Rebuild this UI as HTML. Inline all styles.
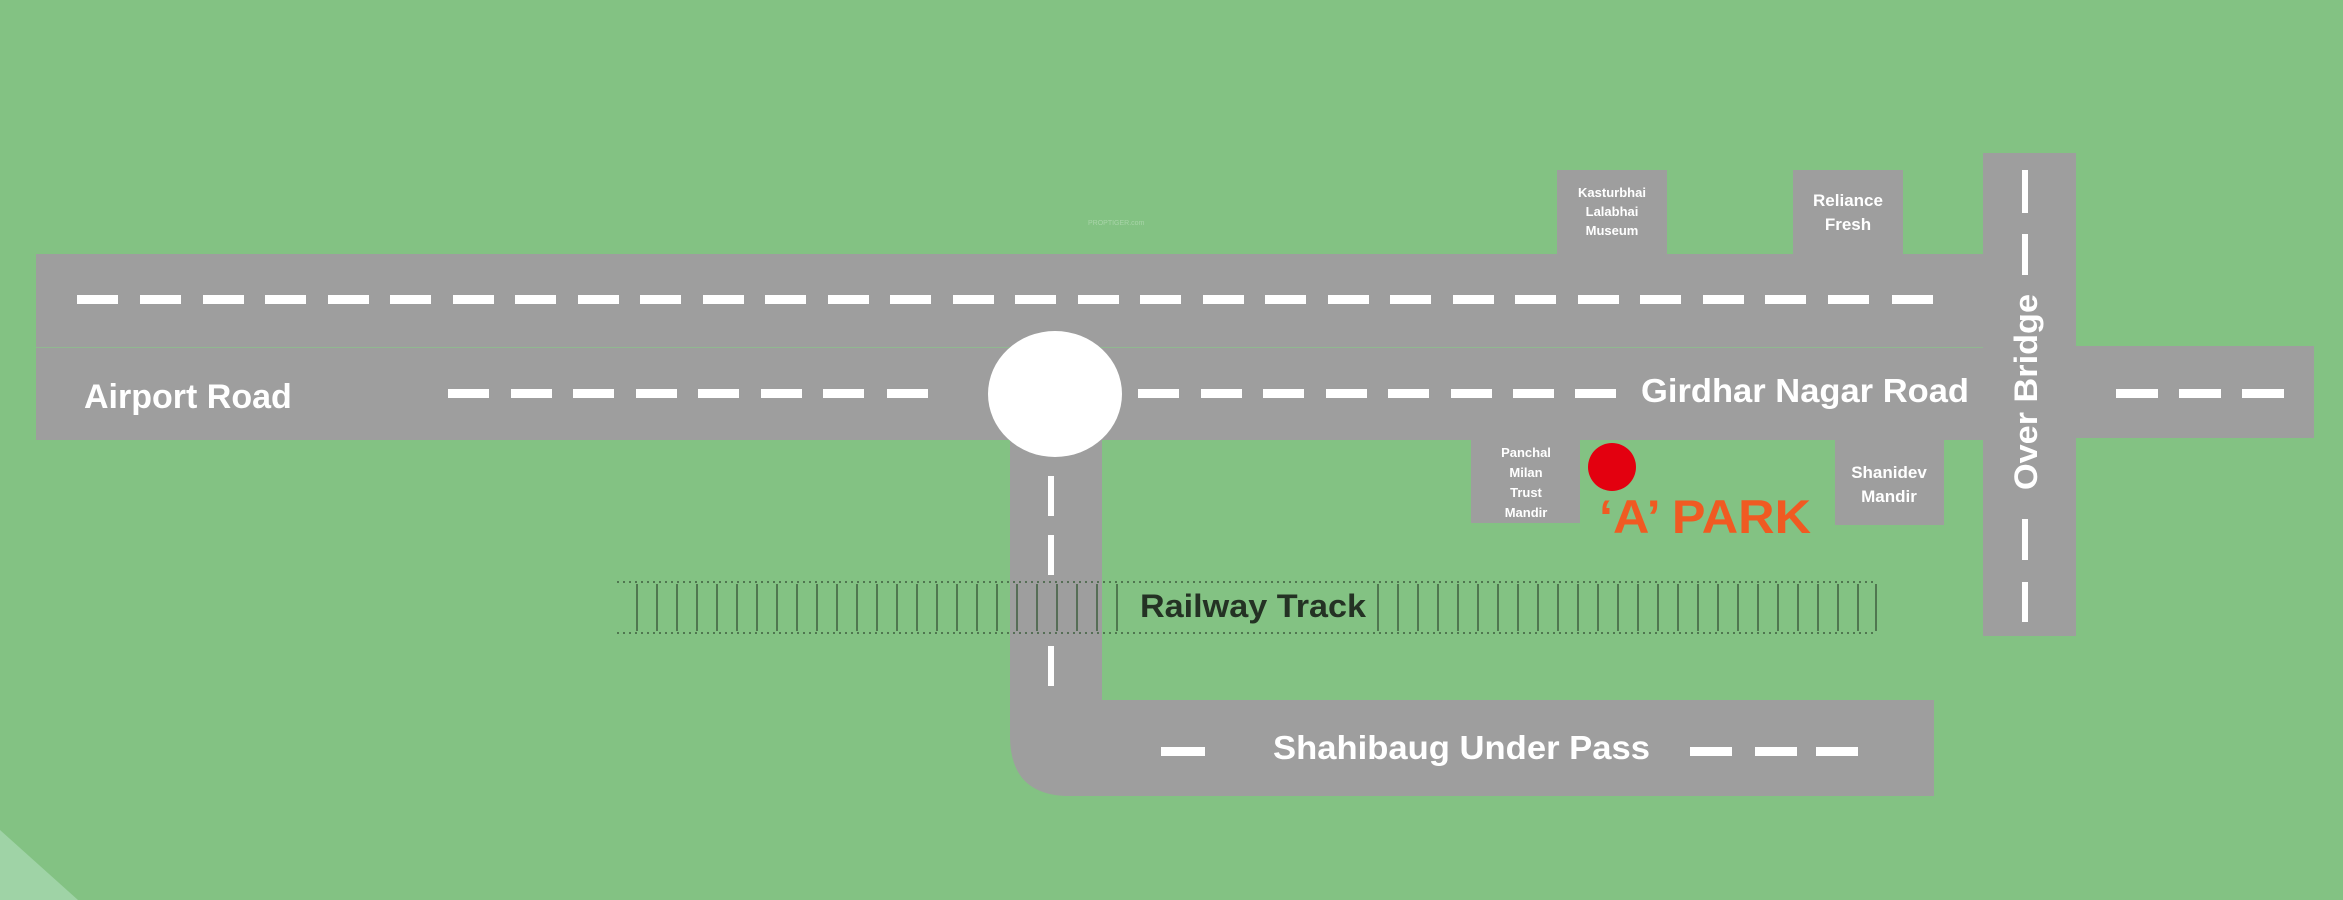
<!DOCTYPE html>
<html><head><meta charset="utf-8"><style>
html,body{margin:0;padding:0;background:#83c283;}
svg{display:block;}
text{font-family:"Liberation Sans",Arial,sans-serif;font-weight:bold;}
</style></head><body>
<svg width="2343" height="900" viewBox="0 0 2343 900" xmlns="http://www.w3.org/2000/svg">
<rect width="2343" height="900" fill="#83c283"/>
<polygon points="0,830 78,900 0,900" fill="#9fd3a6"/>
<text x="1088" y="225" font-size="7" fill="#a8d4a8" style="font-weight:normal">PROPTIGER.com</text>
<rect x="36" y="254" width="1947" height="186" fill="#9e9e9e"/>
<line x1="36" y1="347.5" x2="1983" y2="347.5" stroke="#90b890" stroke-width="1"/>
<rect x="1983" y="153" width="93" height="483" fill="#9e9e9e"/>
<rect x="2076" y="346" width="238" height="92" fill="#9e9e9e"/>
<rect x="1010" y="440" width="92" height="300" fill="#9e9e9e"/>
<path d="M1010 700 H1934 V796 H1070 Q1010 796 1010 736 Z" fill="#9e9e9e"/>
<ellipse cx="1055" cy="394" rx="67" ry="63" fill="#ffffff"/>
<rect x="1557" y="170" width="110" height="84" fill="#9e9e9e"/>
<rect x="1793" y="170" width="110" height="84" fill="#9e9e9e"/>
<rect x="1471" y="440" width="109" height="83" fill="#9e9e9e"/>
<rect x="1835" y="440" width="109" height="85" fill="#9e9e9e"/>
<g fill="#fff" text-anchor="middle" font-size="13">
<text x="1612" y="197">Kasturbhai</text>
<text x="1612" y="216">Lalabhai</text>
<text x="1612" y="235">Museum</text>
<text x="1526" y="457">Panchal</text>
<text x="1526" y="477">Milan</text>
<text x="1526" y="497">Trust</text>
<text x="1526" y="517">Mandir</text>
</g>
<g fill="#fff" text-anchor="middle" font-size="17">
<text x="1848" y="206">Reliance</text>
<text x="1848" y="230">Fresh</text>
<text x="1889" y="478">Shanidev</text>
<text x="1889" y="502">Mandir</text>
</g>
<circle cx="1612" cy="467" r="24" fill="#e3000f"/>
<text x="1599" y="533" font-size="47" fill="#f05a22" textLength="212" lengthAdjust="spacingAndGlyphs">‘A’ PARK</text>
<text x="84" y="408" font-size="34" fill="#fff">Airport Road</text>
<text x="1641" y="402" font-size="33" fill="#fff" textLength="328" lengthAdjust="spacingAndGlyphs">Girdhar Nagar Road</text>
<text x="1273" y="759" font-size="33" fill="#fff" textLength="377" lengthAdjust="spacingAndGlyphs">Shahibaug Under Pass</text>
<text transform="translate(2037,392) rotate(-90)" text-anchor="middle" font-size="32" fill="#fff" textLength="196" lengthAdjust="spacingAndGlyphs">Over Bridge</text>
<g fill="#fff">
<rect x="77" y="295" width="41" height="9"/><rect x="140" y="295" width="41" height="9"/><rect x="203" y="295" width="41" height="9"/><rect x="265" y="295" width="41" height="9"/><rect x="328" y="295" width="41" height="9"/><rect x="390" y="295" width="41" height="9"/><rect x="453" y="295" width="41" height="9"/><rect x="515" y="295" width="41" height="9"/><rect x="578" y="295" width="41" height="9"/><rect x="640" y="295" width="41" height="9"/><rect x="703" y="295" width="41" height="9"/><rect x="765" y="295" width="41" height="9"/><rect x="828" y="295" width="41" height="9"/><rect x="890" y="295" width="41" height="9"/><rect x="953" y="295" width="41" height="9"/><rect x="1015" y="295" width="41" height="9"/><rect x="1078" y="295" width="41" height="9"/><rect x="1140" y="295" width="41" height="9"/><rect x="1203" y="295" width="41" height="9"/><rect x="1265" y="295" width="41" height="9"/><rect x="1328" y="295" width="41" height="9"/><rect x="1390" y="295" width="41" height="9"/><rect x="1453" y="295" width="41" height="9"/><rect x="1515" y="295" width="41" height="9"/><rect x="1578" y="295" width="41" height="9"/><rect x="1640" y="295" width="41" height="9"/><rect x="1703" y="295" width="41" height="9"/><rect x="1765" y="295" width="41" height="9"/><rect x="1828" y="295" width="41" height="9"/><rect x="1892" y="295" width="41" height="9"/>
<rect x="448" y="389" width="41" height="9"/><rect x="511" y="389" width="41" height="9"/><rect x="573" y="389" width="41" height="9"/><rect x="636" y="389" width="41" height="9"/><rect x="698" y="389" width="41" height="9"/><rect x="761" y="389" width="41" height="9"/><rect x="823" y="389" width="41" height="9"/><rect x="887" y="389" width="41" height="9"/>
<rect x="1138" y="389" width="41" height="9"/><rect x="1201" y="389" width="41" height="9"/><rect x="1263" y="389" width="41" height="9"/><rect x="1326" y="389" width="41" height="9"/><rect x="1388" y="389" width="41" height="9"/><rect x="1451" y="389" width="41" height="9"/><rect x="1513" y="389" width="41" height="9"/><rect x="1575" y="389" width="41" height="9"/>
<rect x="2116" y="389" width="42" height="9"/><rect x="2179" y="389" width="42" height="9"/><rect x="2242" y="389" width="42" height="9"/>
<rect x="1161" y="747" width="44" height="9"/><rect x="1690" y="747" width="42" height="9"/><rect x="1755" y="747" width="42" height="9"/><rect x="1816" y="747" width="42" height="9"/>
<rect x="1048" y="476" width="6" height="40"/><rect x="1048" y="535" width="6" height="40"/><rect x="1048" y="646" width="6" height="40"/>
<rect x="2022" y="170" width="6" height="43"/><rect x="2022" y="234" width="6" height="41"/><rect x="2022" y="519" width="6" height="41"/><rect x="2022" y="582" width="6" height="40"/>
</g>
<g stroke="#3f5e3f" stroke-width="1.5" fill="none">
<line x1="617" y1="582" x2="1877" y2="582" stroke-dasharray="2 4"/>
<line x1="617" y1="633" x2="1877" y2="633" stroke-dasharray="2 4"/>
<path d="M637 584V631M657 584V631M677 584V631M697 584V631M717 584V631M737 584V631M757 584V631M777 584V631M797 584V631M817 584V631M837 584V631M857 584V631M877 584V631M897 584V631M917 584V631M937 584V631M957 584V631M977 584V631M997 584V631M1017 584V631M1037 584V631M1057 584V631M1077 584V631M1097 584V631M1117 584V631 M1378 584V631M1398 584V631M1418 584V631M1438 584V631M1458 584V631M1478 584V631M1498 584V631M1518 584V631M1538 584V631M1558 584V631M1578 584V631M1598 584V631M1618 584V631M1638 584V631M1658 584V631M1678 584V631M1698 584V631M1718 584V631M1738 584V631M1758 584V631M1778 584V631M1798 584V631M1818 584V631M1838 584V631M1858 584V631M1876 584V631"/>
</g>
<text x="1140" y="617" font-size="32" fill="#243224" textLength="226" lengthAdjust="spacingAndGlyphs">Railway Track</text>
</svg>
</body></html>
